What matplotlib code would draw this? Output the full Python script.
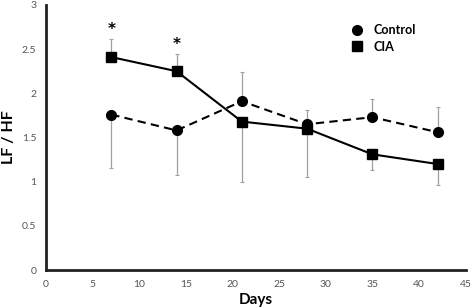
import matplotlib
matplotlib.use("Agg")
import matplotlib.pyplot as plt
import numpy as np

plt.rcParams['font.family'] = ['Lato', 'DejaVu Sans']

days = [7, 14, 21, 28, 35, 42]
control = [1.76, 1.58, 1.91, 1.65, 1.73, 1.56]
control_err_lo = [0.60, 0.50, 0.0, 0.0, 0.0, 0.0]
control_err_hi = [0.0, 0.0, 0.33, 0.16, 0.21, 0.28]
cia = [2.41, 2.25, 1.68, 1.60, 1.31, 1.20]
cia_err_lo = [0.0, 0.0, 0.68, 0.55, 0.18, 0.24]
cia_err_hi = [0.21, 0.20, 0.0, 0.0, 0.0, 0.0]
star_days = [7, 14]
star_y = [2.72, 2.55]

fig = plt.figure(figsize=(4.72, 3.08), dpi=100)
ax = fig.add_axes([0.0975, 0.123, 0.889, 0.861])

ecol = '#a0a0a0'
ax.errorbar(days, control, yerr=[control_err_lo, control_err_hi], fmt='none',
            ecolor=ecol, elinewidth=0.9, capsize=1.2, capthick=0.8, zorder=1)
ax.errorbar(days, cia, yerr=[cia_err_lo, cia_err_hi], fmt='none',
            ecolor=ecol, elinewidth=0.9, capsize=1.2, capthick=0.8, zorder=1)
ax.plot(days, control, linestyle=(0, (4, 2.5)), color='black', lw=1.5,
        marker='o', markersize=7, label='Control', zorder=3)
ax.plot(days, cia, linestyle='-', color='black', lw=1.5,
        marker='s', markersize=6.5, label='CIA', zorder=3)
for d, y in zip(star_days, star_y):
    ax.text(d, y, '*', ha='center', va='center', fontsize=11,
            fontweight='bold', family='DejaVu Sans')

ax.set_xlim(0, 45)
ax.set_ylim(0, 3)
ax.set_xticks(np.arange(0, 46, 5))
ax.set_yticks([0, 0.5, 1, 1.5, 2, 2.5, 3])
ax.set_yticklabels(['0', '0.5', '1', '1.5', '2', '2.5', '3'])
ax.tick_params(length=0, labelsize=7.5, colors='#555555', pad=7)
for s in ['top', 'right']:
    ax.spines[s].set_visible(False)
for s in ['left', 'bottom']:
    ax.spines[s].set_linewidth(2)
    ax.spines[s].set_color('#222222')
ax.set_xlabel('Days', fontsize=11, fontweight='bold', labelpad=3)
ax.set_ylabel('LF / HF', fontsize=11.5, fontweight='bold', va='center')
ax.yaxis.set_label_coords(-0.088, 0.5)
ax.legend(loc='upper left', bbox_to_anchor=(0.715, 0.97), frameon=False,
          handlelength=0, handletextpad=1.3,
          prop={'weight': 'bold', 'size': 9}, labelspacing=0.35)

fig.savefig('out.png', dpi=100)
